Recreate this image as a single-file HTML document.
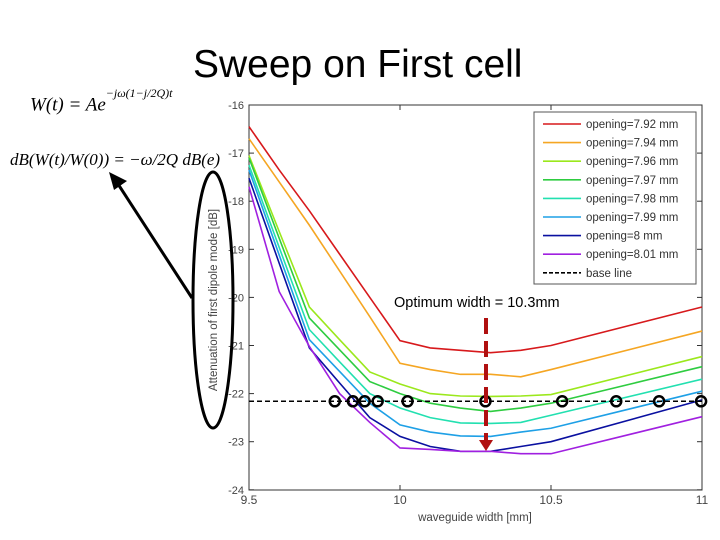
<!DOCTYPE html>
<html><head><meta charset="utf-8"><style>
body{margin:0;background:#fff;width:720px;height:540px;overflow:hidden;position:relative;font-family:"Liberation Sans",sans-serif}
.t{position:absolute;white-space:nowrap}
.f{font-family:"Liberation Serif",serif;font-style:italic;font-size:19px}
</style></head><body>
<div class="t" style="left:193px;top:43px;font-size:39px;color:#000">Sweep on First cell</div>
<div class="t f" style="left:30px;top:92px">W(t) = Ae<sup style="font-size:12px;position:relative;top:-6px">−jω(1−j/2Q)t</sup></div>
<div class="t f" style="left:10px;top:150px;font-size:17px">dB(W(t)/W(0)) = −ω/2Q dB(e)</div>
<svg id="chart" width="720" height="540" style="position:absolute;left:0;top:0"></svg>
<script>
const xs=[9.5,9.6,9.7,9.8,9.9,10,10.1,10.2,10.3,10.4,10.5,11];
const names=["opening=7.92 mm","opening=7.94 mm","opening=7.96 mm","opening=7.97 mm","opening=7.98 mm","opening=7.99 mm","opening=8 mm","opening=8.01 mm"];
const colors=["#d7191c","#f5a623","#9be81c","#2ecc40","#22e0b0","#1ea0e6","#0a10a0","#a020e0"];
const s0=[-16.45,-17.35,-18.2,-19.1,-20.0,-20.9,-21.05,-21.1,-21.15,-21.1,-21.0,-20.2];
const s1=[-16.7,-17.6,-18.5,-19.45,-20.4,-21.37,-21.5,-21.6,-21.6,-21.65,-21.5,-20.7];
const s2=[-17.05,-18.63,-20.2,-20.88,-21.55,-21.8,-22.0,-22.05,-22.06,-22.05,-22.02,-21.23];
const s3=[-17.1,-18.77,-20.43,-21.09,-21.75,-22.0,-22.2,-22.3,-22.37,-22.3,-22.2,-21.44];
const s4=[-17.25,-18.96,-20.67,-21.34,-22.0,-22.3,-22.5,-22.61,-22.62,-22.6,-22.45,-21.7];
const s5=[-17.35,-19.12,-20.88,-21.54,-22.2,-22.65,-22.8,-22.88,-22.89,-22.8,-22.72,-21.95];
const s6=[-17.52,-19.29,-21.05,-21.78,-22.5,-22.89,-23.1,-23.2,-23.2,-23.1,-23.0,-22.13];
const s7=[-17.7,-19.88,-21.02,-22.0,-22.6,-23.13,-23.16,-23.2,-23.2,-23.25,-23.25,-22.48];
const series=[s0,s1,s2,s3,s4,s5,s6,s7];
const baseline=-22.16;
const circles=[9.784,9.844,9.883,9.926,10.025,10.283,10.537,10.716,10.858,10.997];
const xticks=[9.5,10,10.5,11];
const yticks=[-16,-17,-18,-19,-20,-21,-22,-23,-24];
const X=v=>249+(v-9.5)/1.5*453, Y=v=>105+(-16-v)*48.1;
const svg=document.getElementById('chart'),NS="http://www.w3.org/2000/svg";
function mk(t,a,p){const e=document.createElementNS(NS,t);for(const k in a)e.setAttribute(k,a[k]);(p||svg).appendChild(e);return e;}
let e=mk('rect',{x:249,y:105,width:453,height:385,fill:'#fff',stroke:'#333','stroke-width':1});

yticks.forEach(v=>{mk('line',{x1:249,x2:254,y1:Y(v),y2:Y(v),stroke:'#333'});mk('line',{x1:697,x2:702,y1:Y(v),y2:Y(v),stroke:'#333'});
 const t=mk('text',{x:244,y:Y(v)+4,'text-anchor':'end','font-size':11,fill:'#444'});t.textContent=v;
 });
xticks.forEach(v=>{mk('line',{x1:X(v),x2:X(v),y1:490,y2:485,stroke:'#333'});mk('line',{x1:X(v),x2:X(v),y1:105,y2:110,stroke:'#333'});
 const t=mk('text',{x:X(v),y:504,'text-anchor':'middle','font-size':12,fill:'#444'});t.textContent=v;
 });
series.forEach((s,i)=>{const l=mk('polyline',{points:s.map((v,j)=>X(xs[j])+','+Y(v)).join(' '),fill:'none',stroke:colors[i],'stroke-width':1.6});
 });
e=mk('line',{x1:249,x2:702,y1:Y(baseline),y2:Y(baseline),stroke:'#000','stroke-width':1.5,'stroke-dasharray':'5,3'});

circles.forEach(c=>{const o=mk('circle',{cx:X(c),cy:Y(baseline),r:5,fill:'none',stroke:'#000','stroke-width':2.5});
 });
const lg=mk('g',{});
mk('rect',{x:534,y:112,width:162,height:172,fill:'#fff',stroke:'#555'},lg);
names.concat(['base line']).forEach((n,i)=>{const y=124+i*18.6;
 mk('line',{x1:543,x2:581,y1:y,y2:y,stroke:i<8?colors[i]:'#000','stroke-width':1.6,'stroke-dasharray':i<8?'none':'4,2'},lg);
 const t=mk('text',{x:586,y:y+4,'font-size':11.5,fill:'#333'},lg);t.textContent=n;
 });
e=mk('line',{x1:486,x2:486,y1:318,y2:440,stroke:'#b01010','stroke-width':4,'stroke-dasharray':'16,7'});

mk('polygon',{points:'479,440 493,440 486,451',fill:'#b01010'});
e=mk('text',{x:394,y:307,'font-size':14.5,fill:'#000'});e.textContent='Optimum width = 10.3mm';

e=mk('text',{x:475,y:521,'text-anchor':'middle','font-size':11.5,fill:'#444'});e.textContent='waveguide width [mm]';

e=mk('text',{x:0,y:0,'text-anchor':'middle','font-size':11.5,fill:'#444',transform:'translate(217,300) rotate(-90)'});e.textContent='Attenuation of first dipole mode [dB]';

e=mk('ellipse',{cx:213,cy:300,rx:20,ry:128,fill:'none',stroke:'#000','stroke-width':3});

e=mk('line',{x1:192,y1:298,x2:118,y2:184,stroke:'#000','stroke-width':3});

mk('polygon',{points:'109,172 127,181 114,190',fill:'#000'});
</script>
</body></html>
